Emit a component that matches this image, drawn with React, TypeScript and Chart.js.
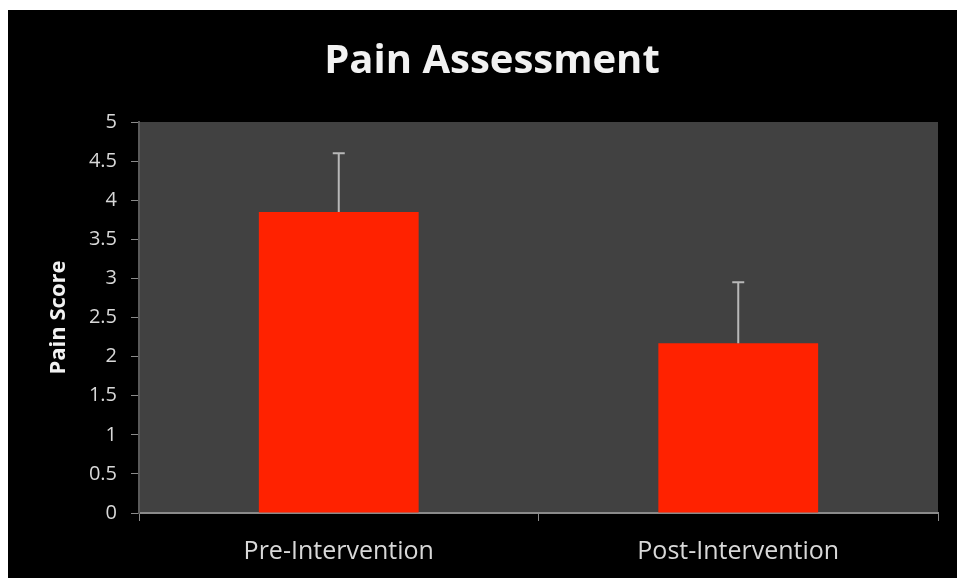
import React, { useEffect, useRef } from "react";
import { Chart, registerables } from "chart.js";

Chart.register(...registerables);

const categories = ["Pre-Intervention", "Post-Intervention"];
const painScores = [3.85, 2.17];
const errorUp = [0.75, 0.78];
const yTicks = [0, 0.5, 1, 1.5, 2, 2.5, 3, 3.5, 4, 4.5, 5];

const FONT = "'Open Sans', Lato, sans-serif";

const plotBg = {
  id: "plotBg",
  beforeDraw(chart: any) {
    const { ctx, chartArea } = chart;
    ctx.save();
    ctx.fillStyle = "#414141";
    ctx.fillRect(chartArea.left, chartArea.top, chartArea.right - chartArea.left, chartArea.bottom - chartArea.top);
    ctx.restore();
  },
};

const errorBars = {
  id: "errorBars",
  afterDatasetsDraw(chart: any) {
    const { ctx } = chart;
    const meta = chart.getDatasetMeta(0);
    const y = chart.scales.y;
    ctx.save();
    ctx.strokeStyle = "#b8b8b8";
    ctx.lineWidth = 2;
    meta.data.forEach((bar: any, i: number) => {
      const top = y.getPixelForValue(painScores[i] + errorUp[i]);
      const base = y.getPixelForValue(painScores[i]);
      ctx.beginPath();
      ctx.moveTo(bar.x, base);
      ctx.lineTo(bar.x, top);
      ctx.moveTo(bar.x - 6, top);
      ctx.lineTo(bar.x + 6, top);
      ctx.stroke();
    });
    ctx.restore();
  },
};

export default function App() {
  const ref = useRef<HTMLCanvasElement>(null);
  useEffect(() => {
    if (!ref.current) return;
    const chart = new Chart(ref.current, {
      type: "bar",
      data: {
        labels: categories,
        datasets: [
          {
            data: painScores,
            backgroundColor: "#ff2200",
            barPercentage: 0.4,
            categoryPercentage: 1,
          },
        ],
      },
      options: {
        animation: false,
        responsive: false,
        layout: { padding: { left: 38, right: 19, top: 0, bottom: 11 } },
        plugins: {
          legend: { display: false },
          tooltip: { enabled: false },
          title: {
            display: true,
            text: "Pain Assessment",
            color: "#f2f2f2",
            font: { family: FONT, size: 40, weight: "bold" },
            padding: { top: 28, bottom: 36 },
          },
        },
        scales: {
          x: {
            afterFit: (axis: any) => {
              axis.height = 54;
            },
            grid: {
              display: true,
              drawOnChartArea: false,
              offset: true,
              color: "#8a8a8a",
              tickLength: 8,
            },
            border: { color: "#8a8a8a", width: 2 },
            ticks: { color: "#d8d8d8", font: { family: FONT, size: 25 }, padding: 16 },
          },
          y: {
            min: 0,
            max: 5,
            afterBuildTicks: (axis: any) => {
              axis.ticks = yTicks.map((v) => ({ value: v }));
            },
            afterFit: (axis: any) => {
              axis.width = 93;
            },
            grid: {
              display: true,
              drawOnChartArea: false,
              color: "#8a8a8a",
              tickLength: 8,
            },
            border: { color: "#5a5a5a", width: 2 },
            ticks: {
              color: "#d8d8d8",
              font: { family: FONT, size: 20 },
              padding: 14,
              callback: (v: any) => String(v),
            },
            title: {
              display: true,
              text: "Pain Score",
              color: "#f2f2f2",
              font: { family: FONT, size: 22, weight: "bold" },
              padding: { top: 0, bottom: 0 },
            },
          },
        },
      },
      plugins: [plotBg, errorBars],
    });
    return () => chart.destroy();
  }, []);
  return (
    <div style={{ position: "fixed", left: 8, top: 10, width: 949, height: 568, background: "#000" }}>
      <canvas ref={ref} width={949} height={568} style={{ display: "block" }} />
    </div>
  );
}
